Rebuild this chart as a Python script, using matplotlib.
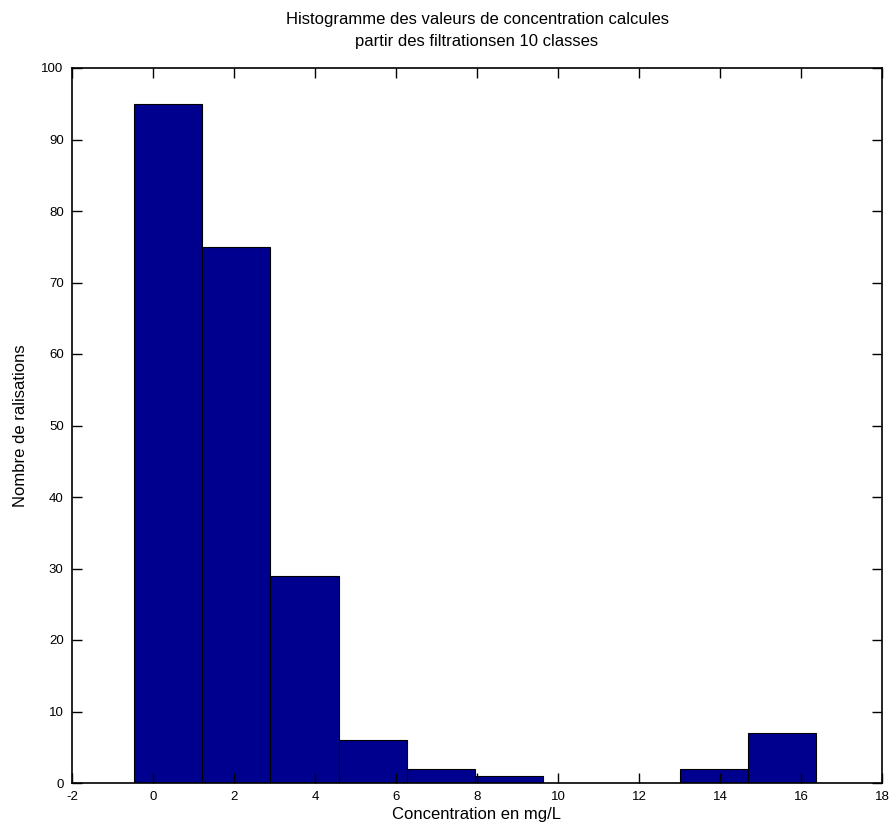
import numpy as np
import matplotlib.pyplot as plt

# histogram counts, 10 classes
counts = [95, 75, 29, 6, 2, 1, 0, 0, 2, 7]
data_min = -0.47   # left edge of first class
data_max = 16.37   # right edge of last class
xticks = [-2, 0, 2, 4, 6, 8, 10, 12, 14, 16, 18]
yticks = [0, 10, 20, 30, 40, 50, 60, 70, 80, 90, 100]

plt.rcParams['font.family'] = ['Liberation Sans', 'DejaVu Sans']
plt.rcParams['axes.unicode_minus'] = False

edges = np.linspace(data_min, data_max, len(counts) + 1)
centers = (edges[:-1] + edges[1:]) / 2
width = edges[1] - edges[0]

fig = plt.figure(figsize=(8.9, 8.4), dpi=100)
ax = fig.add_axes([72 / 890, 57 / 840, 810 / 890, 715 / 840])

ax.bar(centers, counts, width=width, color=(0, 0, 0.5625), edgecolor='black', linewidth=0.8)

ax.set_xlim(-2, 18)
ax.set_ylim(0, 100)
ax.set_xticks(xticks)
ax.set_yticks(yticks)
ax.tick_params(direction='in', length=7, width=1, top=True, right=True, labelsize=9.5, pad=6)
for s in ax.spines.values():
    s.set_linewidth(1.2)

ax.set_title("Histogramme des valeurs de concentration calcules\npartir des filtrationsen 10 classes",
             fontsize=12, pad=16, linespacing=1.6)
ax.set_xlabel("Concentration en mg/L", fontsize=12, labelpad=3)
ax.set_ylabel("Nombre de ralisations", fontsize=12, labelpad=10)

fig.savefig("out.png", dpi=100)
